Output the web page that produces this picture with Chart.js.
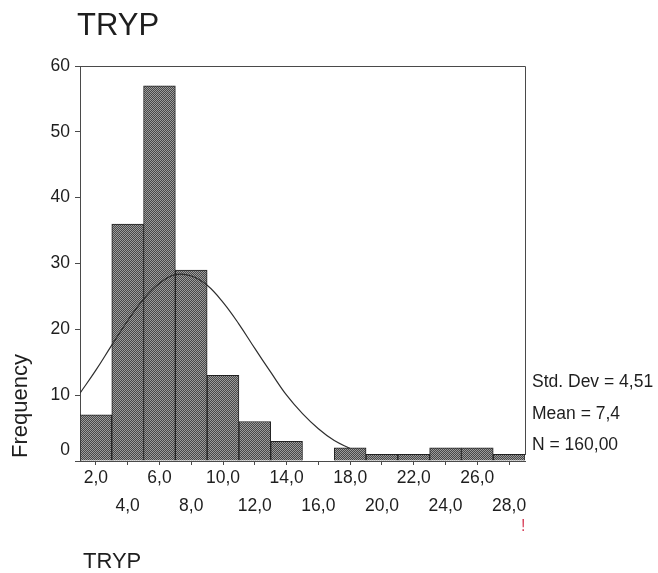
<!DOCTYPE html>
<html>
<head>
<meta charset="utf-8">
<title>TRYP</title>
<script src="https://cdn.jsdelivr.net/npm/chart.js@4.4.0/dist/chart.umd.min.js"></script>
<style>
	body { margin: 0; background: #fff; }
	.wrap { position: relative; width: 658px; height: 573px; overflow: hidden; font-family: 'Liberation Sans', Arial, sans-serif; color: #1e1e1e; }
	.wrap canvas { position: absolute; left: 0; top: 0; }
	.txt { position: absolute; line-height: 1; white-space: nowrap; }
	.title { left: 77px; top: 9px; font-size: 31px; }
	.ytitle { left: 9px; top: 458px; font-size: 22px; transform: rotate(-90deg); transform-origin: left top; }
	.stat { left: 532px; font-size: 17.5px; }
	.xtitle { left: 83px; top: 550px; font-size: 22px; }
	.mark { left: 521px; top: 518px; font-size: 16px; color: #d8405a; }
</style>
</head>
<body>
<div class="wrap">
	<canvas id="myChart" width="658" height="573"></canvas>
	<div class="txt title">TRYP</div>
	<div class="txt ytitle">Frequency</div>
	<div class="txt stat" style="top:373px">Std. Dev = 4,51</div>
	<div class="txt stat" style="top:405px">Mean = 7,4</div>
	<div class="txt stat" style="top:436px">N = 160,00</div>
	<div class="txt xtitle">TRYP</div>
	<div class="txt mark">!</div>
</div>
<script>
// ---------data----------
const binCenters = [2, 4, 6, 8, 10, 12, 14, 16, 18, 20, 22, 24, 26, 28];
const counts = [7, 36, 57, 29, 13, 6, 3, 0, 2, 1, 1, 2, 2, 1];

// normal curve
const curveX = [1, 2, 3, 4, 5, 6, 7, 8, 9, 10, 11, 12, 13, 14, 15, 16, 17, 18];
const curveY = [10.3, 13.8, 17.6, 21.3, 24.6, 27.0, 28.3, 28.1, 26.7, 24.1, 20.8, 17.1, 13.5, 10.0, 7.2, 4.9, 3.1, 1.9];

const xTicks = [2, 4, 6, 8, 10, 12, 14, 16, 18, 20, 22, 24, 26, 28];
const xTickLabels = ['2,0', '4,0', '6,0', '8,0', '10,0', '12,0', '14,0', '16,0', '18,0', '20,0', '22,0', '24,0', '26,0', '28,0'];
const yTicks = [0, 10, 20, 30, 40, 50, 60];

const axisColor = '#4a4a4a';
const textColor = '#1e1e1e';

// halftone fill like the scanned bars
function makePattern() {
	const c = document.createElement('canvas');
	c.width = 2;
	c.height = 2;
	const p = c.getContext('2d');
	p.fillStyle = '#484848';
	p.fillRect(0, 0, 2, 2);
	p.fillStyle = '#9c9c9c';
	p.fillRect(0, 0, 1, 1);
	p.fillRect(1, 1, 1, 1);
	return p.createPattern(c, 'repeat');
}

// top + right border of the plot box
const frame = {
	id: 'frame',
	afterDatasetsDraw(chart) {
		const {ctx, chartArea: a} = chart;
		ctx.save();
		ctx.strokeStyle = axisColor;
		ctx.lineWidth = 1;
		ctx.beginPath();
		ctx.moveTo(Math.round(a.left), Math.round(a.top) + 0.5);
		ctx.lineTo(Math.round(a.right) + 0.5, Math.round(a.top) + 0.5);
		ctx.lineTo(Math.round(a.right) + 0.5, Math.round(a.bottom) - 6);
		ctx.stroke();
		ctx.restore();
	}
};

document.addEventListener('DOMContentLoaded', function () {
	Chart.defaults.font.family = "'Liberation Sans', Arial, sans-serif";
	Chart.defaults.color = textColor;

	const ctx = document.getElementById('myChart').getContext('2d');

	new Chart(ctx, {
		type: 'bar',
		data: {
			datasets: [{
				type: 'line',
				data: curveX.map((x, i) => ({x: x, y: curveY[i]})),
				borderColor: '#2e2e2e',
				borderWidth: 1.2,
				pointRadius: 0,
				tension: 0.4,
				fill: false,
				order: 0
			}, {
				data: binCenters.map((x, i) => ({x: x, y: counts[i]})),
				backgroundColor: makePattern(),
				borderColor: '#222',
				borderWidth: 1,
				borderSkipped: 'start',
				barPercentage: 1,
				categoryPercentage: 1,
				order: 1
			}]
		},
		options: {
			responsive: false,
			animation: false,
			layout: { padding: { left: 30, right: 133, top: 66, bottom: 52 } },
			plugins: {
				legend: { display: false },
				tooltip: { enabled: false }
			},
			scales: {
				x: {
					type: 'linear',
					min: 1,
					max: 29,
					offset: false,
					afterFit: s => { s.height = 60; },
					afterBuildTicks: s => { s.ticks = xTicks.map(v => ({value: v})); },
					grid: { drawOnChartArea: false, offset: false, tickLength: 4, color: axisColor },
					border: { display: true, color: axisColor, width: 1 },
					ticks: {
						autoSkip: false,
						maxRotation: 0,
						padding: 0,
						color: textColor,
						font: { size: 17.5, lineHeight: 1.56 },
						callback: (v, i) => i % 2 === 0 ? [xTickLabels[i]] : ['', xTickLabels[i]]
					}
				},
				y: {
					min: 0,
					max: 60,
					afterFit: s => { s.width = 50; },
					afterBuildTicks: s => { s.ticks = yTicks.map(v => ({value: v})); },
					grid: { drawOnChartArea: false, tickLength: 5, color: axisColor },
					border: { display: true, color: axisColor, width: 1 },
					ticks: {
						padding: 5,
						color: textColor,
						font: { size: 17.5 },
						callback: v => v === 0 ? ['0', ''] : String(v)
					}
				}
			}
		},
		plugins: [frame]
	});
});
</script>
</body>
</html>
